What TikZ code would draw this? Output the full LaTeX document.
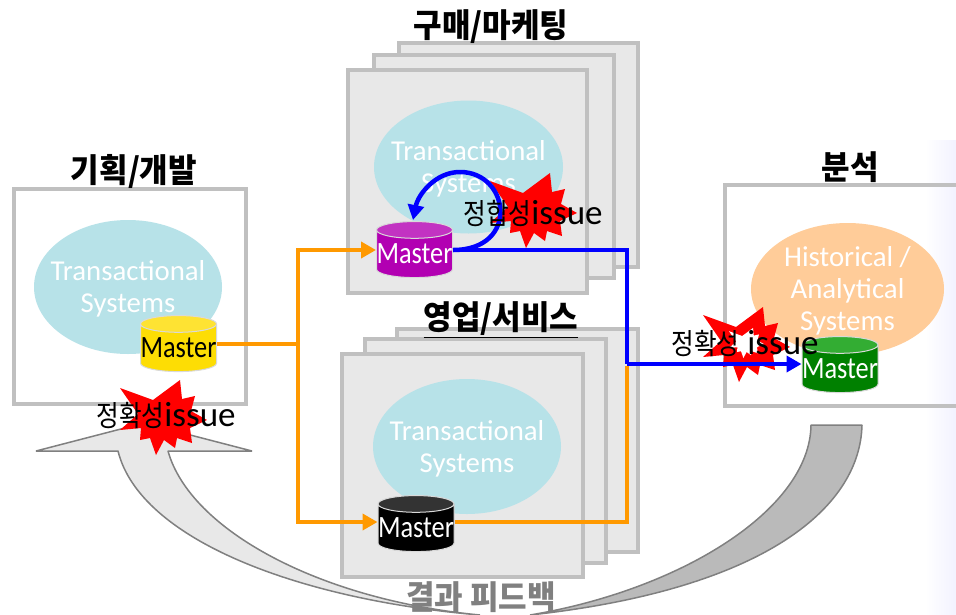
\documentclass[tikz,border=0pt]{standalone}
\usepackage{fontspec}
\setmainfont{Carlito}
\newfontfamily\cjk[FakeStretch=0.94]{Noto Sans CJK KR}
\newfontfamily\cjknarrow[FakeStretch=0.85]{Noto Sans CJK KR}
\newfontfamily\masterfont[FakeStretch=0.85]{Carlito}
\newcommand{\kr}[1]{{\cjknarrow\fontsize{29}{29}\selectfont #1}}
\usetikzlibrary{shapes.geometric,arrows.meta}
\definecolor{boxline}{HTML}{C0C0C0}
\definecolor{boxfill}{HTML}{E8E8E8}
\definecolor{tealfill}{HTML}{B7E2E8}
\definecolor{peachfill}{HTML}{FFCC99}
\definecolor{flowline}{HTML}{FF9900}
\definecolor{backarrow}{HTML}{808080}
\tikzstyle{sysbox}=[
	draw=boxline,
	line width=4pt,
	fill=boxfill,
	inner sep=0pt
]
\tikzstyle{sysblob}=[
	shape=ellipse,
	inner sep=0pt
]
\tikzstyle{blobtext}=[
	text=white,
	align=center,
	inner sep=0pt,
	font=\fontsize{28.8}{32}\selectfont
]
\tikzstyle{master}=[
	shape=cylinder,
	shape border rotate=90,
	aspect=0.22,
	cylinder uses custom fill,
	draw=black!15,
	line width=1pt,
	minimum width=72pt,
	minimum height=56pt,
	inner sep=0pt,
	font=\masterfont\fontsize{31}{31}\selectfont
]
\tikzstyle{heading}=[font=\cjk\bfseries\fontsize{33}{36}\selectfont]
\tikzstyle{issue}=[font=\fontsize{35}{35}\selectfont,inner sep=0pt]
\tikzstyle{backshape}=[draw=backarrow,line width=1.5pt,line join=bevel]
\tikzstyle{orangeline} = [draw=flowline,line width=4.5pt,-]
\tikzstyle{orangearrow} = [draw=flowline,line width=4.5pt,-{Triangle[length=15pt,width=16pt]}]
\tikzstyle{blueline} = [draw=blue,line width=4.5pt,-]
\tikzstyle{bluearrow} = [draw=blue,line width=4.5pt,-{Triangle[length=15pt,width=16pt]}]
\newcommand{\burstpath}{(-40,-32) -- (-7,-20) -- (20,-40) -- (22,-21) -- (35,-24) -- (31,-9) -- (47,0) -- (30,8) -- (32,23) -- (17,18) -- (15,28) -- (4,20) -- (-4,35) -- (-10,18) -- (-20,20) -- (-19,8) -- (-40,10) -- (-22,-6) -- cycle}
\begin{document}
\begin{tikzpicture}[x=1pt,y=-1pt]
	\useasboundingbox (0,0) rectangle (956,614);
	\clip (0,0) rectangle (956,614);
	
	\shade[left color=white,right color=blue!5] (925,140) rectangle (956,614);
	
	% feedback arrow
	\path[backshape,fill=boxfill]
	(36,451) -- (144,423) -- (252,451) -- (168,451)
	.. controls (190,530) and (320,600) .. (480,615)
	.. controls (300,600) and (140,540) .. (118,451) -- cycle;
	\path[backshape,fill=black!27]
	(811,425) -- (862,425)
	.. controls (860,510) and (760,590) .. (530,615)
	.. controls (680,590) and (810,510) .. (811,425) -- cycle;
	
	% planning
	\node[sysbox,fill=white,minimum width=232pt,minimum height=215pt] (planBox) at (130,296.5) {};
	\node[sysblob,fill=tealfill,minimum width=188pt,minimum height=134pt] (planBlob) at (128,287) {};
	\node[blobtext] (planText) at ([yshift=-2pt]planBlob) {Transactional\\Systems};
	\node[heading] (planTitle) at (134,171) {기획/개발};
	
	% purchasing
	\node[sysbox,minimum width=239pt,minimum height=224pt] (buyBack) at (518.5,155) {};
	\node[sysbox,minimum width=240pt,minimum height=223pt] (buyMid) at (494,166.5) {};
	\node[sysbox,minimum width=239pt,minimum height=223pt] (buyBox) at (467.5,181.5) {};
	\node[sysblob,fill=tealfill,minimum width=189pt,minimum height=133pt] (buyBlob) at (468.5,167) {};
	\node[blobtext] (buyText) at ([yshift=-2pt]buyBlob) {Transactional\\Systems};
	\node[heading] (buyTitle) at (491,27) {구매/마케팅};
	
	% sales
	\node[sysbox,minimum width=241pt,minimum height=223pt] (saleBack) at (517.5,440.5) {};
	\node[sysbox,minimum width=241pt,minimum height=224pt] (saleMid) at (485.5,451) {};
	\node[sysbox,minimum width=241pt,minimum height=223pt] (saleBox) at (462.5,465.5) {};
	\node[sysblob,fill=tealfill,minimum width=188pt,minimum height=135pt] (saleBlob) at (467,446.5) {};
	\node[blobtext] (saleText) at ([yshift=-2pt]saleBlob) {Transactional\\Systems};
	\node[heading] (saleTitle) at (501,320) {\underline{영업/서비스}};
	
	% analysis
	\node[sysbox,fill=none,minimum width=300pt,minimum height=221pt] (anaBox) at (875,295.5) {};
	\node[sysblob,fill=peachfill,minimum width=193pt,minimum height=132pt] (anaBlob) at (847.5,289) {};
	\node[blobtext] (anaText) at ([yshift=-2pt]anaBlob) {Historical /\\Analytical\\Systems};
	\node[heading] (anaTitle) at (850,167) {분석};
	
	% bursts
	\fill[red,shift={(160,420)}] \burstpath;
	\fill[red,shift={(530,213)}] \burstpath;
	\fill[red,shift={(743,347)}] \burstpath;
	\fill[white,shift={(745,344)},scale=0.4] \burstpath;
	
	% databases
	\node[master,cylinder body fill=yellow!80!orange,cylinder end fill=yellow!80!orange!80!white] (masterPlan) at (178.5,348) {Master};
	\node[master,text=white,cylinder body fill=violet!60!magenta,cylinder end fill=violet!60!magenta!80!white] (masterBuy) at (414.5,254) {Master};
	\node[master,text=white,cylinder body fill=black,cylinder end fill=black!80] (masterSale) at (416,528) {Master};
	\node[master,text=white,cylinder body fill=green!50!black,cylinder end fill=green!60!black!80!white] (masterAna) at (840,369) {Master};
	
	\coordinate (split) at (298,344);
	\coordinate (upper) at (298,250);
	\coordinate (lower) at (298,522);
	\coordinate (saleTurn) at (627,522);
	\coordinate (saleEnd) at (627,366);
	\coordinate (buyTurn) at (627,250);
	\coordinate (anaTurn) at (627,364);
	
	\path[orangeline]
	(masterPlan.east |- split) edge node {} (split)
	(masterSale.east |- saleTurn) -- (saleTurn) -- (saleEnd);
	\draw[orangearrow] (split) -- (upper) -- (masterBuy.west |- upper);
	\draw[orangearrow] (split) -- (lower) -- (masterSale.west |- lower);
	
	\draw[blueline] (masterBuy.east |- buyTurn) -- (buyTurn) -- (anaTurn);
	\draw[bluearrow] (anaTurn) -- (masterAna.west |- anaTurn);
	\draw[bluearrow] (masterBuy.east |- buyTurn) .. controls (520,250) and (510,172) .. (460,172) .. controls (435,172) and (418,195) .. (413,220);
	
	% labels
	\node[issue] (issuePlan) at (166,416) {\kr{정확성}issue};
	\node[issue] (issueBuy) at (533,214) {\kr{정합성}issue};
	\node[issue] (issueAna) at (745,344) {\kr{정확성} issue};
	\node[heading,text=backarrow] (backLabel) at (481,597) {결과 피드백};
\end{tikzpicture}
\end{document}
